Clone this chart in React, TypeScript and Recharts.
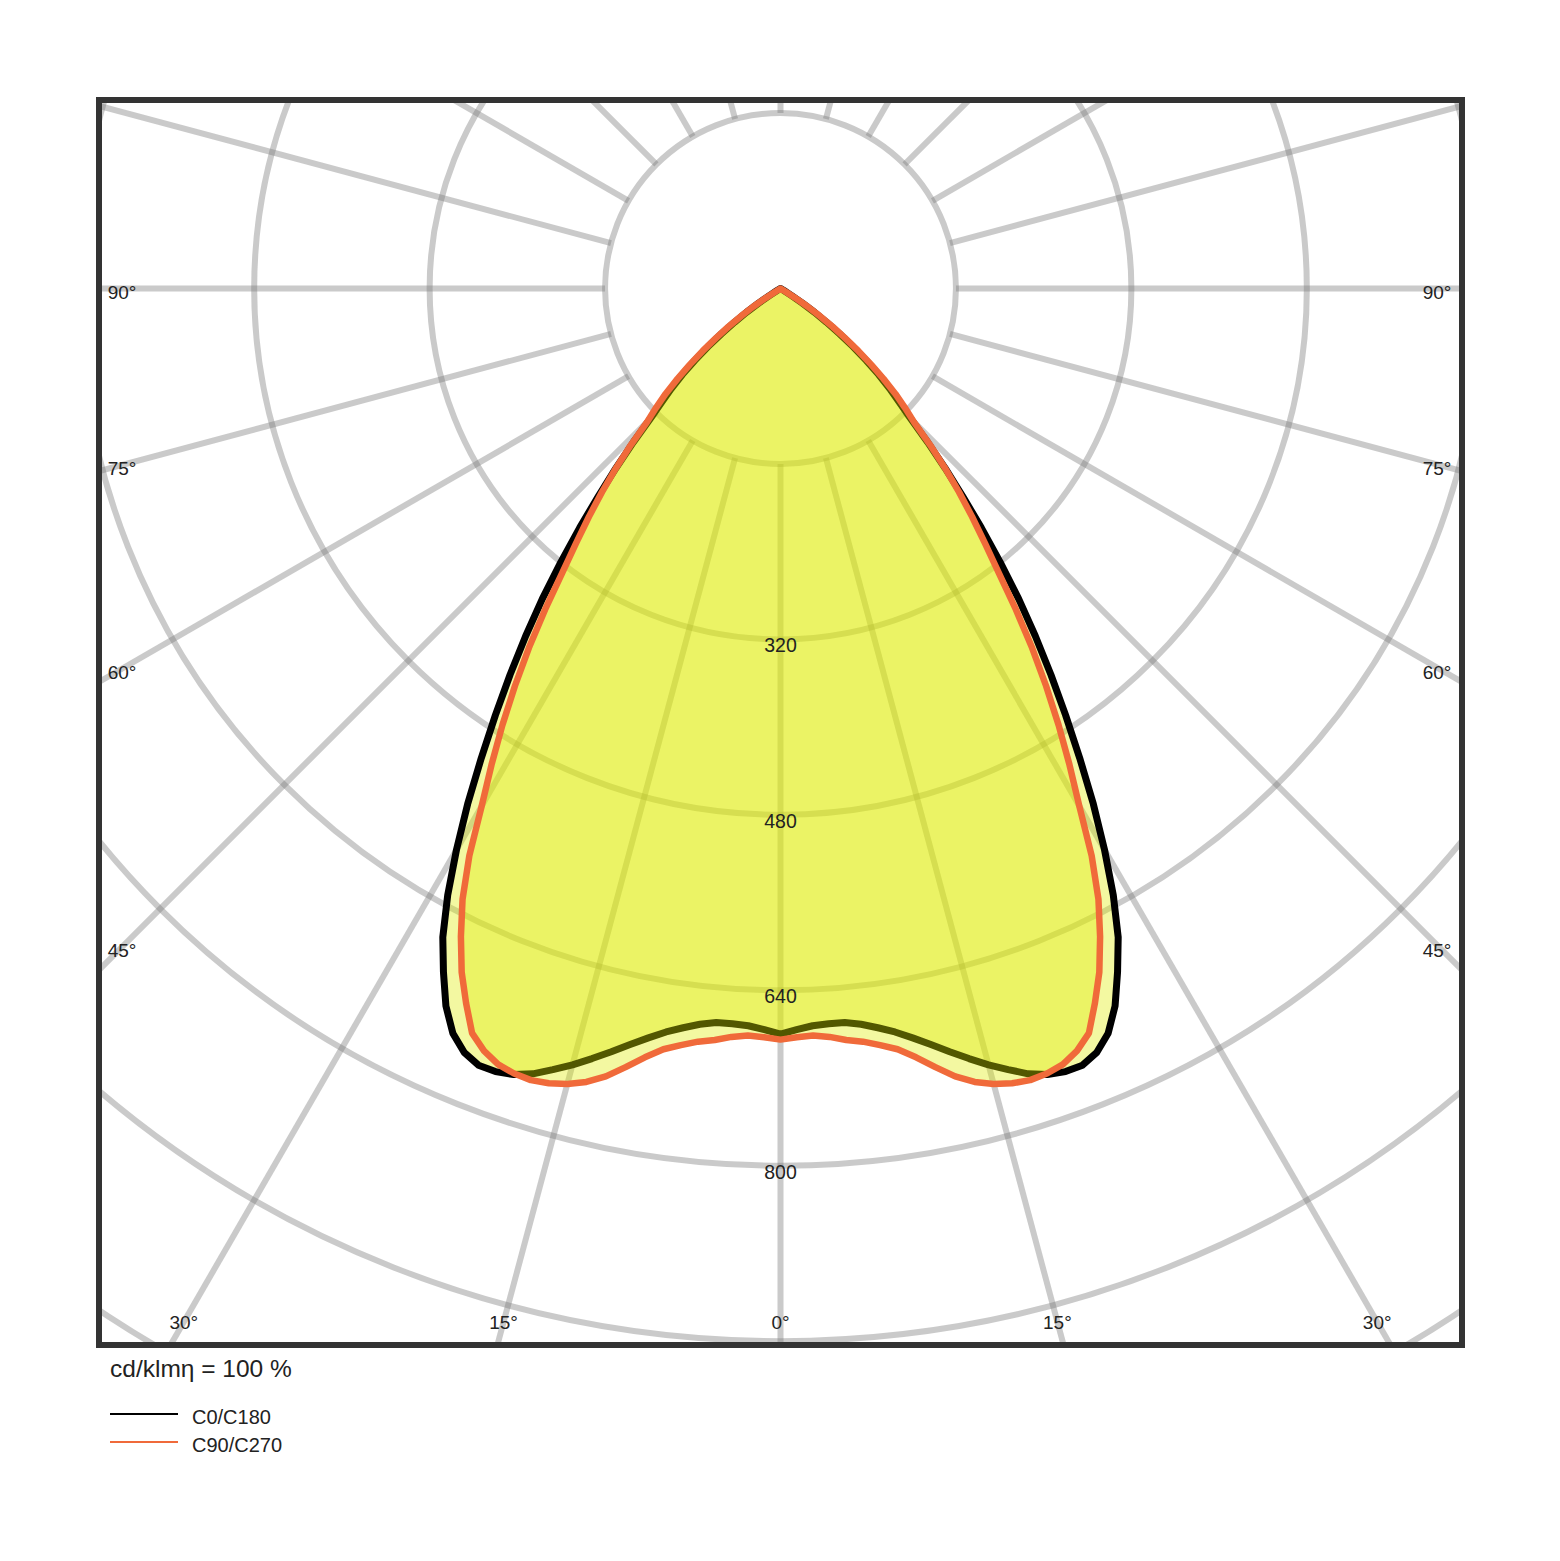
import React from 'react';
import { RadarChart, Radar, PolarGrid, PolarAngleAxis, PolarRadiusAxis } from 'recharts';

// gamma angles (deg from nadir) of the half-plane profiles
const gamma = [
  0, 1.25, 2.5, 3.75, 5, 6.25, 7.5, 8.75, 10, 11.25, 12.5, 13.75, 15, 16.25, 17.5, 18.75, 20, 21.25, 22.5, 23.75,
  25, 26.25, 27.5, 28.75, 30, 31.25, 32.5, 33.75, 35, 36.25, 37.5, 38.75, 40, 41.25, 42.5, 43.75, 45, 46.25, 47.5, 48.75,
  50, 51.25, 52.5, 53.75, 55, 56.25, 57.5, 58.75, 60, 61.25, 62.5, 63.75, 65, 66.25, 67.5, 68.75, 70, 71.25, 72.5, 73.75,
  75, 76.25, 77.5, 78.75, 80, 81.25, 82.5, 83.75, 85, 86.25, 87.5, 88.75, 90,
];
// cd/klm, C0/C180 plane
const c0c180 = [
  680, 676, 673, 672, 672, 675, 680, 686, 694, 703, 713, 723, 733, 742, 751, 757, 760, 760, 754, 742,
  722, 695, 667, 631, 591, 550, 508, 468, 430, 393, 357, 320, 285, 252, 222, 194, 168, 150, 135, 119,
  102, 85, 68, 52, 38, 24, 12, 4, 0, 0, 0, 0, 0, 0, 0, 0, 0, 0, 0, 0,
  0, 0, 0, 0, 0, 0, 0, 0, 0, 0, 0, 0, 0,
];
// cd/klm, C90/C270 plane
const c90c270 = [
  685, 683, 682, 684, 688, 691, 696, 702, 712, 724, 736, 745, 751, 755, 757, 756, 753, 746, 735, 712,
  688, 659, 628, 590, 545, 508, 472, 436, 400, 363, 327, 298, 272, 247, 222, 197, 172, 157, 142, 125,
  108, 91, 74, 59, 44, 30, 16, 6, 0, 0, 0, 0, 0, 0, 0, 0, 0, 0, 0, 0,
  0, 0, 0, 0, 0, 0, 0, 0, 0, 0, 0, 0, 0,
];

const seriesNames = ['C0/C180', 'C90/C270'];
const seriesKeys = ['c0', 'c90'];
const seriesColors = ['#000000', '#f06a3a'];

const radiusTicks = [160, 320, 480, 640, 800, 960, 1120, 1280];
const radiusLabels = [320, 480, 640, 800];
const angleTicks = [0, 15, 30, 45, 60, 75, 90, 105, 120, 135, 150, 165, 180, 195, 210, 225, 240, 255, 270, 285, 300, 315, 330, 345];
const sideLabels = [90, 75, 60, 45];
const bottomLabels = [-30, -15, 0, 15, 30];
const unitText = 'cd/klmη = 100 %';

// full-circle table built from the half-plane profiles (mirrored)
const STEP = 1.25;
const profileAt = (arr: number[], g: number) => {
  const i = gamma.indexOf(g);
  return i >= 0 ? arr[i] : 0;
};
const table: { angle: number; c0: number; c90: number }[] = [];
for (let k = 0; k < 360 / STEP; k++) {
  const a = k * STEP;
  const g = a <= 180 ? a : 360 - a;
  table.push({ angle: a, c0: profileAt(c0c180, g), c90: profileAt(c90c270, g) });
}

// layout
const FONT = '"Liberation Sans", Arial, Helvetica, sans-serif';
const CHART_LEFT = 100;
const CHART_TOP = 100;
const CHART_W = 1362;
const CHART_H = 1245;
const CX = 680.5;
const CY = 188.5;
const PX_PER_CD = 1.0965;
const R_MIN = radiusTicks[0];
const R_MAX = radiusTicks[radiusTicks.length - 1];
const PAGE_CX = CHART_LEFT + CX;
const PAGE_CY = CHART_TOP + CY;
const SIDE_X_LEFT = 122;
const SIDE_X_RIGHT = 1437;
const BOTTOM_Y = 1322;

const RadiusTick = (props: any) => {
  const { x, y, payload } = props;
  if (!radiusLabels.includes(payload.value)) return <g />;
  return (
    <text x={x} y={y + 13} textAnchor="middle" fontSize={19.5} fill="#222" fontFamily={FONT}>
      {payload.value}
    </text>
  );
};

const labelStyle = (x: number, y: number, size: number): React.CSSProperties => ({
  position: 'absolute',
  left: x,
  top: y,
  transform: 'translate(-50%, -50%)',
  fontSize: size,
  lineHeight: 1,
  color: '#222',
  whiteSpace: 'nowrap',
});

export default function App() {
  const toRad = (d: number) => (d * Math.PI) / 180;
  return (
    <div
      style={{
        position: 'absolute',
        left: 0,
        top: 0,
        width: 1560,
        height: 1561,
        background: '#ffffff',
        fontFamily: FONT,
        overflow: 'hidden',
      }}
    >
      <div style={{ position: 'absolute', left: CHART_LEFT, top: CHART_TOP, width: CHART_W, height: CHART_H, overflow: 'hidden' }}>
        <RadarChart
          width={CHART_W}
          height={CHART_H}
          cx={CX}
          cy={CY}
          innerRadius={R_MIN * PX_PER_CD}
          outerRadius={R_MAX * PX_PER_CD}
          startAngle={-90}
          endAngle={270}
          data={table}
          margin={{ top: 0, right: 0, bottom: 0, left: 0 }}
        >
          <PolarGrid gridType="circle" stroke="#7a7a7a" strokeOpacity={0.4} strokeWidth={6} />
          <PolarAngleAxis type="number" dataKey="angle" domain={[0, 360]} ticks={angleTicks} tick={false} axisLine={false} />
          <Radar
            name={seriesNames[0]}
            dataKey={seriesKeys[0]}
            stroke={seriesColors[0]}
            strokeWidth={7}
            strokeLinejoin="round"
            fill="#dfeb00"
            fillOpacity={0.37}
            dot={false}
            isAnimationActive={false}
          />
          <Radar
            name={seriesNames[1]}
            dataKey={seriesKeys[1]}
            stroke={seriesColors[1]}
            strokeWidth={6.5}
            strokeLinejoin="round"
            fill="#dfeb00"
            fillOpacity={0.37}
            dot={false}
            isAnimationActive={false}
          />
          <PolarRadiusAxis
            type="number"
            angle={-90}
            domain={[R_MIN, R_MAX]}
            allowDataOverflow
            ticks={radiusTicks}
            axisLine={false}
            tickLine={false}
            tick={RadiusTick}
          />
        </RadarChart>
      </div>

      {/* frame */}
      <div
        style={{
          position: 'absolute',
          left: 96,
          top: 97,
          width: 1369,
          height: 1251,
          border: '6px solid #333',
          boxSizing: 'border-box',
          pointerEvents: 'none',
        }}
      />

      {/* side angle labels */}
      {sideLabels.map((g) => {
        const y = PAGE_CY + (PAGE_CX - SIDE_X_LEFT) / Math.tan(toRad(g)) + 3;
        return (
          <React.Fragment key={'s' + g}>
            <div style={labelStyle(SIDE_X_LEFT, y, 19)}>{g}°</div>
            <div style={labelStyle(SIDE_X_RIGHT, y, 19)}>{g}°</div>
          </React.Fragment>
        );
      })}
      {/* bottom angle labels */}
      {bottomLabels.map((g, i) => {
        const x = PAGE_CX + (BOTTOM_Y - PAGE_CY) * Math.tan(toRad(g));
        return (
          <div key={'b' + i} style={labelStyle(x, BOTTOM_Y, 19)}>
            {Math.abs(g)}°
          </div>
        );
      })}

      {/* unit */}
      <div style={{ position: 'absolute', left: 110, top: 1357, fontSize: 24.5, lineHeight: 1, color: '#222' }}>{unitText}</div>

      {/* legend */}
      {seriesNames.map((n, i) => (
        <React.Fragment key={n}>
          <div style={{ position: 'absolute', left: 110, top: 1413 + i * 28, width: 68, height: 2, background: seriesColors[i] }} />
          <div style={{ position: 'absolute', left: 192, top: 1407 + i * 28, fontSize: 20, lineHeight: 1, color: '#222' }}>{n}</div>
        </React.Fragment>
      ))}
    </div>
  );
}
